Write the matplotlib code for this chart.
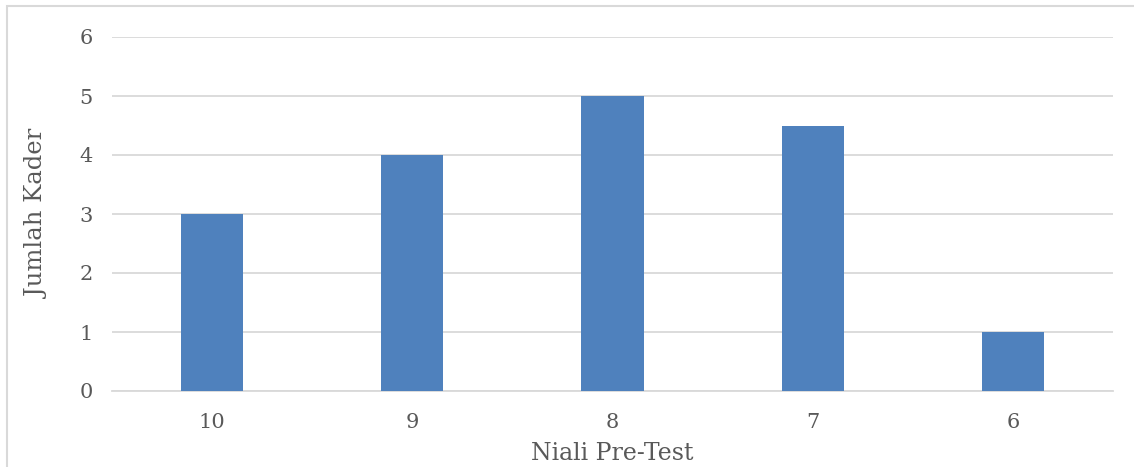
import matplotlib
matplotlib.use('Agg')
import matplotlib.pyplot as plt
from matplotlib.patches import Rectangle

# data
categories = ['10', '9', '8', '7', '6']
jumlah = [3, 4, 5, 4.5, 1]
y_ticks = [0, 1, 2, 3, 4, 5, 6]

bar_color = '#4F81BD'
text_color = '#595959'
grid_color = '#D9D9D9'

plt.rcParams['font.family'] = ['DejaVu Serif']

fig = plt.figure(figsize=(11.34, 4.67), dpi=100)
ax = fig.add_axes([112 / 1134, 1 - 391 / 467, (1113 - 112) / 1134, (391 - 37) / 467])

x = list(range(len(categories)))
ax.bar(x, jumlah, width=0.31, color=bar_color, zorder=3)

ax.set_xlim(-0.5, len(categories) - 0.5)
ax.set_ylim(0, 6)
ax.set_yticks(y_ticks)
ax.set_xticks(x)
ax.set_xticklabels(categories)

# horizontal gridlines only
ax.grid(axis='y', color=grid_color, linewidth=1.3, zorder=0)
for s in ['top', 'right', 'left']:
    ax.spines[s].set_visible(False)
ax.spines['bottom'].set_color(grid_color)
ax.spines['bottom'].set_linewidth(1.3)
ax.tick_params(axis='both', length=0, labelsize=15, colors=text_color)
ax.tick_params(axis='y', pad=14)
ax.tick_params(axis='x', pad=16)

ax.set_xlabel('Niali Pre-Test', fontsize=17, color=text_color, labelpad=7)
ax.set_ylabel('Jumlah Kader', fontsize=17.5, color=text_color, labelpad=22)

# light frame around the chart area (cut off at right and bottom)
fig.patches.append(Rectangle((7 / 1134, -0.1), 2.0, 1 - 6 / 467 + 0.1,
                             transform=fig.transFigure, fill=False,
                             edgecolor=grid_color, linewidth=1.5))

fig.savefig('out.png', dpi=100)
